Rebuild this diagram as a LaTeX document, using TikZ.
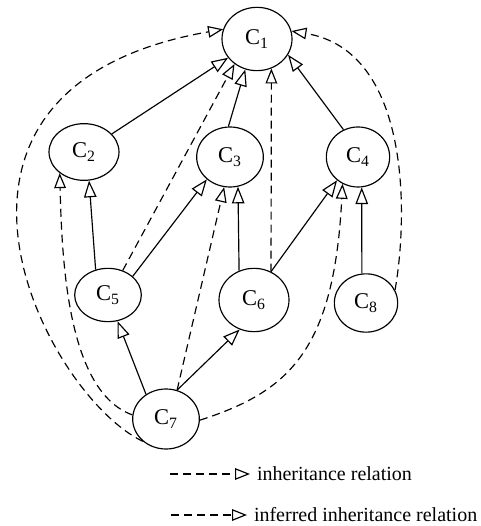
\documentclass[tikz,border=0pt]{standalone}
\usepackage{fontspec}
\setmainfont{Liberation Serif}
\usepackage{tikz}
\usetikzlibrary{
arrows.meta,
shapes.geometric
}
\tikzset{
clsnode/.style={draw, ellipse, inner sep=0pt, line width=0.7pt,
  minimum width=40pt, minimum height=36pt, font=\fontsize{13.5}{15}\selectfont},
clsarrow/.style={-{Triangle[open, length=10pt, width=7.5pt]}, line width=0.7pt},
clsdashed/.style={-{Triangle[open, length=9pt, width=7pt]}, line width=0.7pt,
  dash pattern=on 4.8pt off 3pt},
clslegend/.style={anchor=west, inner xsep=4pt, inner ysep=0pt,
  font=\fontsize{12}{14}\selectfont}
}

\begin{document}
\begin{tikzpicture}[x=0.6pt, y=-0.6pt]
\useasboundingbox (0,0) rectangle (480,526);
\node[clsnode, minimum width=42pt, minimum height=38pt] (c1) at (257,39) {C\textsubscript{1}};
\node[clsnode, minimum width=42pt, minimum height=34pt] (c2) at (84,152) {C\textsubscript{2}};
\node[clsnode] (c3) at (230,157) {C\textsubscript{3}};
\node[clsnode, minimum width=38pt] (c4) at (358,157) {C\textsubscript{4}};
\node[clsnode, minimum height=32pt] (c5) at (108,295) {C\textsubscript{5}};
\node[clsnode, minimum width=42pt, minimum height=38pt] (c6) at (254,300) {C\textsubscript{6}};
\node[clsnode] (c7) at (166,419) {C\textsubscript{7}};
\node[clsnode, minimum width=38pt, minimum height=35pt] (c8) at (366,303) {C\textsubscript{8}};

\draw[clsarrow] (c2.33) -- (c1.213);
\draw[clsarrow] (c3.93) -- (c1.249);
\draw[clsarrow] (c4.118) -- (c1.333);
\draw[clsarrow] (c5.116) -- (c2.280);
\draw[clsarrow] (c5.37) -- (c3.224);
\draw[clsarrow] (c6.117) -- (c3.285);
\draw[clsarrow] (c6.59) -- (c4.228);
\draw[clsarrow] (c8.98) -- (c4.277);
\draw[clsarrow] (c7.129) -- (c5.290);
\draw[clsarrow] (c7.69) -- (c6.244);

\draw[clsdashed] (c5.59) -- (c1.228);
\draw[clsdashed] (c6.59) -- (c1.296);
\draw[clsdashed] (c7.69) -- (c3.259);
\draw[clsdashed] (c7.358) .. controls (287,392) and (334,353) .. (c4.240);
\draw[clsdashed] (c7.173) .. controls (68,392) and (62,264) .. (c2.221);
\draw[clsdashed] (c7.224) .. controls (45,395) and (-113,88) .. (c1.164);
\draw[clsdashed] (c8.24) .. controls (408,216) and (411,51) .. (c1.13);

\node[clslegend] (leg1) at (250,474) {inheritance relation};
\node[clslegend] (leg2) at (247,515) {inferred inheritance relation};
\coordinate (leg1s) at (170,474);
\coordinate (leg2s) at (171,515);
\draw[clsdashed] (leg1s) -- (leg1);
\draw[clsdashed] (leg2s) -- (leg2);
\end{tikzpicture}
\end{document}
